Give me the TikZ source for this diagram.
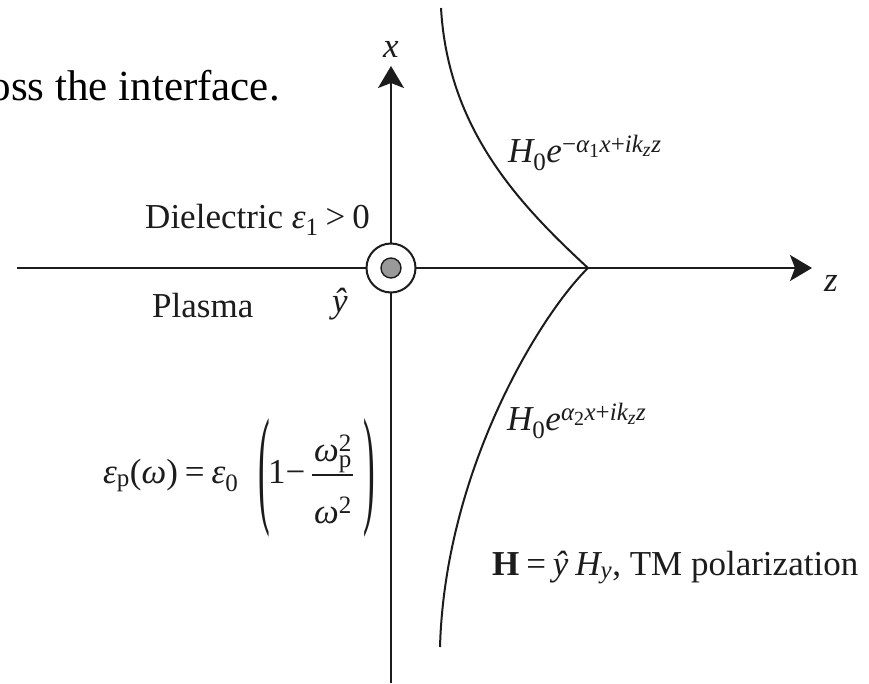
\documentclass[tikz,border=0pt]{standalone}
\usepackage{graphicx}
\usepackage{fontspec}
\setmainfont{Liberation Serif}
\usetikzlibrary{arrows.meta}
\DeclareSymbolFont{tnrit}{TU}{\rmdefault}{m}{it}
\DeclareSymbolFont{tnrup}{TU}{\rmdefault}{m}{n}
\DeclareMathSizes{35}{35}{25}{20}
\newcommand\myitletter[1]{\Umathcode`#1=7 \symtnrit `#1\relax}
\newcommand\myupchar[2]{\Umathcode`#1=#2 \symtnrup `#1\relax}
\AtBeginDocument{%
  \myitletter x\myitletter y\myitletter z\myitletter H\myitletter e%
  \myitletter i\myitletter k\myitletter p%
  \myupchar 0{7}\myupchar 1{7}\myupchar 2{7}%
  \myupchar +{2}\myupchar ={3}\myupchar >{3}\myupchar ({4}\myupchar ){5}%
  \Umathcode`-=2 \symtnrup "2212\relax
  \Umathchardef\myeps=7 \symtnrit "03B5\relax
  \Umathchardef\myomega=7 \symtnrit "03C9\relax
  \Umathchardef\myalpha=7 \symtnrit "03B1\relax
}
\newcommand\myyhat{\mbox{\itshape ŷ}}
\definecolor{ink}{HTML}{1C1C1C}
\definecolor{dotgray}{HTML}{999999}
\tikzset{
  axisline/.style={draw=ink, line width=2pt, -{Stealth[length=22pt,width=26pt,inset=5pt]}},
  fieldcurve/.style={draw=ink, line width=2pt},
  lab/.style={inner sep=0pt, text=ink, font=\fontsize{35}{42}\selectfont},
  bigtext/.style={inner sep=0pt, text=black, font=\fontsize{43}{50}\selectfont},
  bigparen/.style={inner sep=0pt, text=ink, font=\fontsize{35}{42}\selectfont},
}
\begin{document}
\begin{tikzpicture}[x=1pt,y=-1pt]
\useasboundingbox[fill=white] (0,0) rectangle (869,683);
% axes
\coordinate (xbot) at (391,683);
\coordinate (xtop) at (391,66);
\coordinate (zleft) at (17,268);
\coordinate (zright) at (812,268);
\draw[axisline] (xbot) -- (xtop);
\draw[axisline] (zleft) -- (zright);
% field curves meeting at the z axis
\coordinate (cusp) at (588,268);
\coordinate (uptop) at (441,8);
\coordinate (lowend) at (440,647);
\draw[fieldcurve] (uptop) .. controls (448,130) and (520,205) .. (cusp);
\draw[fieldcurve] (cusp) .. controls (540,315) and (445,470) .. (lowend);
% y-hat out of page symbol
\node[circle, draw=ink, line width=2pt, fill=white, minimum size=49pt, inner sep=0pt] (yout) at (391,268) {};
\node[circle, draw=ink, line width=1.4pt, fill=dotgray, minimum size=20pt, inner sep=0pt] (ydot) at (yout.center) {};
% labels
\node[bigtext, anchor=base east] (caption) at (280,100) {oss the interface.};
\node[lab, anchor=base] (xlab) at (391,57) {$x$};
\node[lab, anchor=base] (zlab) at (831,291) {$z$};
\node[lab, anchor=base east] (dielec) at (370,228) {Dielectric $\myeps_1>0$};
\node[lab, anchor=base west] (plasma) at (152,317) {Plasma};
\node[lab, anchor=base] (yhat) at (340,312) {\myyhat};
% plasma permittivity
\node[lab, anchor=base west] (epsl) at (103,483) {$\myeps_{\mathrm{p}}(\myomega)=\myeps_0$};
\node[bigparen] (lparen) at (264,478) {\scalebox{1}[3.75]{(}};
\node[bigparen] (rparen) at (369,478) {\scalebox{1}[3.75]{)}};
\node[lab, anchor=base west] (one) at (268,483) {$1{-}$};
\node[lab, anchor=base] (num) at (333,461) {$\myomega_{\mathrm{p}}^2$};
\node[lab, anchor=base] (den) at (333,523) {$\myomega^2$};
\draw[ink, line width=1.5pt] (312,475) coordinate (barl) -- (353,475) coordinate (barr);
% field expressions
\node[lab, anchor=base west] (hup) at (508,162) {$H_0e^{-\myalpha_1x+ik_zz}$};
\node[lab, anchor=base west] (hdown) at (507,430) {$H_0e^{\myalpha_2x+ik_zz}$};
\node[lab, anchor=base west] (hpol) at (492,575) {$\mathbf{H}=\myyhat\;H_y$, TM polarization};
\end{tikzpicture}
\end{document}
